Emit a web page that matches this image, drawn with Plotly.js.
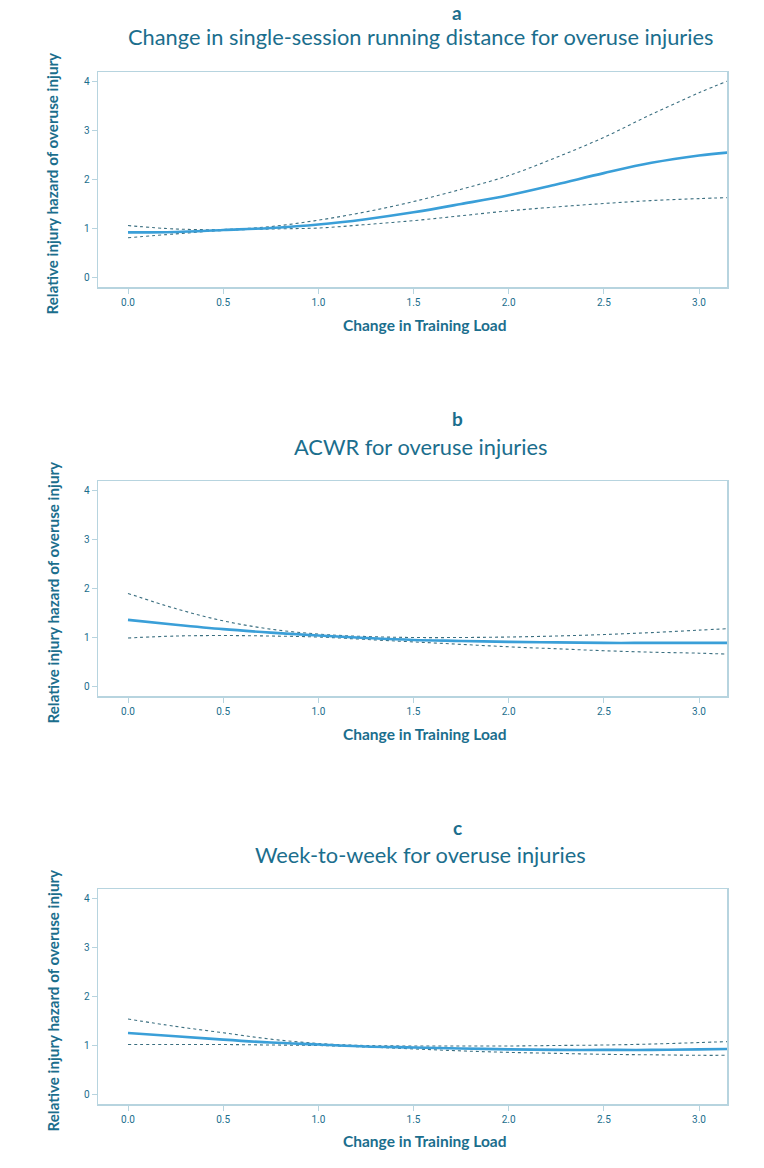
<!DOCTYPE html>
<html>
<head>
<meta charset="utf-8">
<script src="https://cdn.plot.ly/plotly-3.0.1.min.js"></script>
<style>
html,body{margin:0;padding:0;background:#fff;}
#chart{width:764px;height:1168px;}
</style>
</head>
<body>
<div id="chart"></div>
<script>
// Data
const xVals = [0, 0.25, 0.5, 0.75, 1.0, 1.25, 1.5, 1.75, 2.0, 2.25, 2.5, 2.75, 3.0, 3.15];

const panelLetters = ["a", "b", "c"];
const panelTitles = [
  "Change in single-session running distance for overuse injuries",
  "ACWR for overuse injuries",
  "Week-to-week for overuse injuries"
];

// Panel a: single-session running distance
const aEst   = [0.91, 0.92, 0.96, 1.00, 1.07, 1.18, 1.32, 1.49, 1.67, 1.89, 2.12, 2.33, 2.48, 2.54];
const aUpper = [1.05, 0.98, 0.97, 1.03, 1.16, 1.33, 1.54, 1.79, 2.07, 2.44, 2.85, 3.32, 3.76, 4.00];
const aLower = [0.80, 0.88, 0.95, 0.98, 1.00, 1.07, 1.15, 1.25, 1.35, 1.43, 1.50, 1.56, 1.60, 1.62];

// Panel b: ACWR
const bEst   = [1.35, 1.25, 1.16, 1.09, 1.03, 0.98, 0.94, 0.92, 0.90, 0.89, 0.88, 0.88, 0.88, 0.88];
const bUpper = [1.89, 1.58, 1.33, 1.16, 1.06, 1.01, 0.99, 0.99, 1.00, 1.02, 1.05, 1.09, 1.14, 1.17];
const bLower = [0.98, 1.02, 1.03, 1.02, 1.00, 0.95, 0.90, 0.85, 0.80, 0.76, 0.72, 0.69, 0.67, 0.65];

// Panel c: week-to-week
const cEst   = [1.245, 1.18, 1.11, 1.05, 1.01, 0.97, 0.95, 0.93, 0.91, 0.90, 0.90, 0.90, 0.91, 0.92];
const cUpper = [1.53, 1.38, 1.25, 1.12, 1.03, 0.99, 0.98, 0.98, 0.98, 0.99, 1.00, 1.02, 1.05, 1.07];
const cLower = [1.01, 1.01, 1.01, 1.00, 0.99, 0.96, 0.92, 0.88, 0.85, 0.83, 0.81, 0.80, 0.79, 0.79];

const xTicks = [0, 0.5, 1.0, 1.5, 2.0, 2.5, 3.0];
const xTickText = ["0.0", "0.5", "1.0", "1.5", "2.0", "2.5", "3.0"];
const yTicks = [0, 1, 2, 3, 4];
const xTitle = "Change in Training Load";
const yTitle = "Relative injury hazard of overuse injury";

const W = 764, H = 1168;
const lineColor = "#3a9fd8";
const ciColor = "#3b6f80";
const textColor = "#1b6e8d";
const frameColor = "#b7d4df";

// panel pixel boxes (top, bottom) in page coordinates
const boxes = [[72, 287], [481, 696], [889, 1104]];
const plotLeft = 98, plotRight = 727;

const series = [[aEst, aUpper, aLower], [bEst, bUpper, bLower], [cEst, cUpper, cLower]];

const traces = [];
const layout = {
  width: W, height: H,
  margin: {l: 0, r: 0, t: 0, b: 0},
  paper_bgcolor: "#ffffff",
  plot_bgcolor: "#ffffff",
  showlegend: false,
  font: {family: "Lato, 'Open Sans', sans-serif", color: textColor},
  annotations: []
};

series.forEach((s, i) => {
  const n = i + 1;
  const xa = n === 1 ? "x" : "x" + n;
  const ya = n === 1 ? "y" : "y" + n;
  const [est, up, lo] = s;
  traces.push({x: xVals, y: up, xaxis: xa, yaxis: ya, mode: "lines", type: "scatter",
    line: {color: ciColor, width: 1.1, dash: "3px,3px", shape: "spline", smoothing: 1}, hoverinfo: "skip"});
  traces.push({x: xVals, y: lo, xaxis: xa, yaxis: ya, mode: "lines", type: "scatter",
    line: {color: ciColor, width: 1.1, dash: "3px,3px", shape: "spline", smoothing: 1}, hoverinfo: "skip"});
  traces.push({x: xVals, y: est, xaxis: xa, yaxis: ya, mode: "lines", type: "scatter",
    line: {color: lineColor, width: 2.6, shape: "spline", smoothing: 1}});

  const [top, bot] = boxes[i];
  const axX = {
    domain: [plotLeft / W, plotRight / W],
    range: [-0.1576, 3.147],
    anchor: ya,
    tickmode: "array", tickvals: xTicks, ticktext: xTickText,
    ticks: "outside", ticklen: 5, tickcolor: frameColor, tickwidth: 1,
    showline: true, linecolor: frameColor, linewidth: 1.5, mirror: true,
    showgrid: false, zeroline: false,
    tickfont: {family: "'Liberation Sans Narrow', Roboto, sans-serif", size: 10, color: textColor},
    fixedrange: true
  };
  const axY = {
    domain: [1 - bot / H, 1 - top / H],
    range: [-0.204, 4.184],
    anchor: xa,
    tickmode: "array", tickvals: yTicks,
    ticks: "outside", ticklen: 5, tickcolor: frameColor, tickwidth: 1,
    showline: true, linecolor: frameColor, linewidth: 1.5, mirror: true,
    showgrid: false, zeroline: false,
    tickfont: {family: "'Liberation Sans Narrow', Roboto, sans-serif", size: 10, color: textColor},
    fixedrange: true
  };
  layout["xaxis" + (n === 1 ? "" : n)] = axX;
  layout["yaxis" + (n === 1 ? "" : n)] = axY;

  const letterY = [12, 418, 828][i];
  const titleY = [37, 446, 854][i];
  const xTitleY = [325, 734, 1141][i];
  const yTitleCenter = (top + bot) / 2 + 4;

  layout.annotations.push({
    xref: "paper", yref: "paper", x: 457 / W, y: 1 - letterY / H,
    text: "<b>" + panelLetters[i] + "</b>", showarrow: false,
    xanchor: "center", yanchor: "middle",
    font: {family: "Lato, sans-serif", size: 19, color: textColor}
  });
  layout.annotations.push({
    xref: "paper", yref: "paper", x: 420 / W, y: 1 - titleY / H,
    text: panelTitles[i], showarrow: false,
    xanchor: "center", yanchor: "middle",
    font: {family: "Lato, sans-serif", size: 21.8, color: textColor}
  });
  layout.annotations.push({
    xref: "paper", yref: "paper", x: 425 / W, y: 1 - xTitleY / H,
    text: "<b>" + xTitle + "</b>", showarrow: false,
    xanchor: "center", yanchor: "middle",
    font: {family: "Lato, sans-serif", size: 15.5, color: textColor}
  });
  layout.annotations.push({
    xref: "paper", yref: "paper", x: 52 / W, y: 1 - yTitleCenter / H,
    text: "<b>" + yTitle + "</b>", showarrow: false, textangle: -90,
    xanchor: "center", yanchor: "middle",
    font: {family: "Lato, sans-serif", size: 15.2, color: textColor}
  });
});

Plotly.newPlot("chart", traces, layout, {displayModeBar: false, staticPlot: true});
</script>
</body>
</html>
